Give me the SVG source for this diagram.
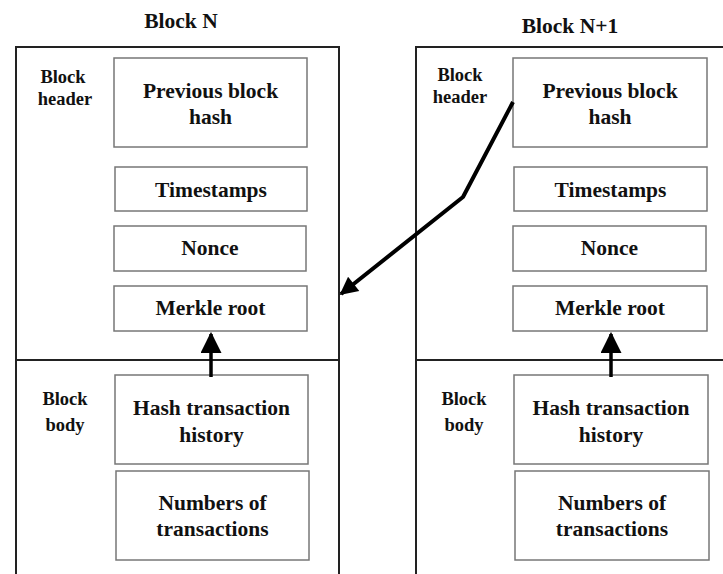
<svg xmlns="http://www.w3.org/2000/svg" width="723" height="574" viewBox="0 0 723 574">
<style>
text{font-family:"Liberation Serif","Times New Roman",serif;font-weight:bold;fill:#111;text-anchor:middle}
.t{font-size:21.5px}
.l{font-size:18.5px}
.h{font-size:21.5px}
.box{fill:#fff;stroke:#777;stroke-width:1.5}
.outer{fill:none;stroke:#222;stroke-width:2}
.conn{fill:none;stroke:#000;stroke-width:4;stroke-linejoin:round}
</style>
<defs>
<marker id="ah" viewBox="0 0 10 10" refX="9" refY="5" markerWidth="5.5" markerHeight="4.5" orient="auto" markerUnits="strokeWidth">
<path d="M0,0 L10,5 L0,10 z" fill="#000"/>
</marker>
<marker id="ah2" viewBox="0 0 10 10" refX="9" refY="5" markerWidth="6" markerHeight="6" orient="auto" markerUnits="strokeWidth">
<path d="M0,0 L10,5 L0,10 z" fill="#000"/>
</marker>
</defs>
<rect width="723" height="574" fill="#fff"/>

<g id="blockN">
<text class="h" x="181" y="28">Block N</text>
<path class="outer" d="M16,575 V47 H339 V575 M16,360 H339"/>
<text class="l" x="63" y="83">Block</text>
<text class="l" x="65" y="105">header</text>
<text class="l" x="65" y="405">Block</text>
<text class="l" x="65" y="431">body</text>
</g>
<g id="n-prev"><rect class="box" x="114" y="58" width="193" height="89"/><text class="t" x="210.5" y="98">Previous block</text><text class="t" x="210.5" y="124">hash</text></g>
<g id="n-time"><rect class="box" x="115" y="167" width="192" height="44"/><text class="t" x="211" y="197">Timestamps</text></g>
<g id="n-nonce"><rect class="box" x="114" y="226" width="192" height="45"/><text class="t" x="210" y="255">Nonce</text></g>
<g id="n-merkle"><rect class="box" x="114" y="286" width="193" height="45"/><text class="t" x="210.5" y="315">Merkle root</text></g>
<g id="n-hash"><rect class="box" x="115" y="375" width="193" height="89"/><text class="t" x="211.5" y="415">Hash transaction</text><text class="t" x="211.5" y="442">history</text></g>
<g id="n-num"><rect class="box" x="116" y="471" width="193" height="89"/><text class="t" x="212.5" y="510">Numbers of</text><text class="t" x="212.5" y="536">transactions</text></g>

<g id="blockN1">
<text class="h" x="570" y="33">Block N+1</text>
<path class="outer" d="M416,575 V47 H724 M416,360 H724"/>
<text class="l" x="460" y="81">Block</text>
<text class="l" x="460" y="103">header</text>
<text class="l" x="464" y="405">Block</text>
<text class="l" x="464" y="431">body</text>
</g>
<g id="n1-prev"><rect class="box" x="513" y="58" width="194" height="89"/><text class="t" x="610" y="98">Previous block</text><text class="t" x="610" y="124">hash</text></g>
<g id="n1-time"><rect class="box" x="514" y="167" width="193" height="44"/><text class="t" x="610.5" y="197">Timestamps</text></g>
<g id="n1-nonce"><rect class="box" x="513" y="226" width="193" height="45"/><text class="t" x="609.5" y="255">Nonce</text></g>
<g id="n1-merkle"><rect class="box" x="513" y="286" width="194" height="45"/><text class="t" x="610" y="315">Merkle root</text></g>
<g id="n1-hash"><rect class="box" x="514" y="375" width="194" height="89"/><text class="t" x="611" y="415">Hash transaction</text><text class="t" x="611" y="442">history</text></g>
<g id="n1-num"><rect class="box" x="515" y="471" width="194" height="89"/><text class="t" x="612" y="510">Numbers of</text><text class="t" x="612" y="536">transactions</text></g>

<g id="connectors">
<path class="conn" d="M513,102 L463,197 L341,294" marker-end="url(#ah)"/>
<path class="conn" style="stroke-width:3.5" d="M211,377 V334" marker-end="url(#ah2)"/>
<path class="conn" style="stroke-width:3.5" d="M611,377 V334" marker-end="url(#ah2)"/>
</g>
</svg>
